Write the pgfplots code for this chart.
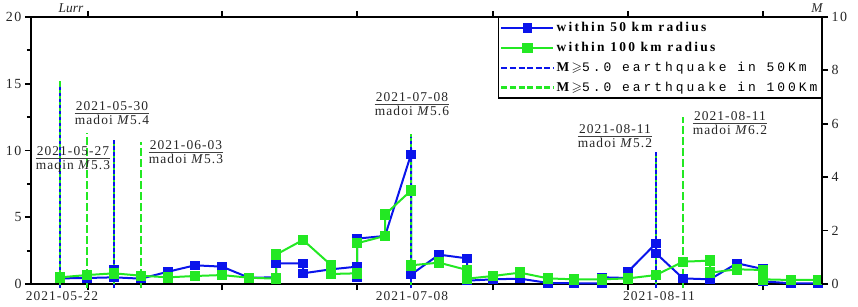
\documentclass[border=0pt]{standalone}
\usepackage{amssymb}
\usepackage{pgfplots}
\pgfplotsset{compat=1.18}
\usepackage{fontspec}
\setmainfont{Liberation Serif}
\newfontfamily\wideserif[LetterSpace=8]{Liberation Serif}
\newfontfamily\tickserif[LetterSpace=12]{Liberation Serif}
\newfontfamily\legserif[LetterSpace=17]{Liberation Serif}
\newfontfamily\legmono[LetterSpace=23]{Liberation Mono}
\definecolor{cblue}{RGB}{10,20,235}
\definecolor{cgreen}{RGB}{35,232,35}
\newcommand{\annfont}{\wideserif\fontsize{13.5}{15}\selectfont}
\newcommand{\ann}[4]{%
  \node[anchor=south, inner xsep=1bp, inner ysep=2bp, font=\annfont, text=black!85] (t) at (axis cs:#1,#2) {#3};
  \draw[line width=0.7bp, black!75] (t.south west) -- (t.south east);
  \node[anchor=north, inner xsep=1bp, inner ysep=2bp, font=\annfont, text=black!85] at (t.south) {#4};}
\begin{document}
\begin{tikzpicture}
\useasboundingbox (0,0) rectangle (858bp,307bp);
\begin{axis}[
  at={(31bp,23bp)}, anchor=south west,
  scale only axis, width=791bp, height=267bp,
  xmin=31, xmax=822, ymin=0, ymax=20,
  clip=false,
  axis line style={line width=2bp},
  tick align=outside,
  major tick length=6bp, minor tick length=4bp,
  every tick/.style={black, line width=1.8bp},
  xtick={88,222,357,493,628,763},
  xticklabels={},
  xtick pos=both,
  extra x ticks={62,412,659},
  extra x tick labels={2021-05-22,2021-07-08,2021-08-11},
  extra x tick style={major tick length=0bp, xticklabel style={yshift=-4bp}},
  ytick={0,5,10,15,20},
  minor ytick={2.5,7.5,12.5,17.5},
  ytick pos=left,
  /pgf/number format/assume math mode=true,
  yticklabel style={font=\tickserif\fontsize{14}{15}\selectfont, text=black!85},
  xticklabel style={font=\wideserif\fontsize{13.5}{15}\selectfont, text=black!85},
  legend style={at={(1,1)}, anchor=north east, draw=black, line width=1.3bp,
    inner xsep=2bp, inner ysep=3bp, row sep=5bp,
    font=\legserif\fontsize{13.5}{15}\selectfont, fill=white},
  legend cell align=left,
  legend image code/.code={\draw[mark repeat=2,mark phase=2,#1] plot coordinates {(0bp,0bp)(26bp,0bp)(52bp,0bp)};},
]
\addplot[cblue, line width=2bp, mark=square*, mark size=3.7bp, mark options={solid}] coordinates {
(60,0.42) (87,0.45) (114,0.5) (114,1.05) (114,0.5) (141,0.4) (168,0.92) (195,1.4) (222,1.3) (249,0.47) (276,0.5) (276,1.55) (303,1.55) (303,0.8) (331,1.1) (357,1.3) (357,0.47) (357,3.4) (385,3.6) (411,9.7) (411,0.7) (439,2.2) (467,1.92) (467,0.25) (493,0.35) (520,0.4) (548,0.08) (574,0.05) (602,0.05) (602,0.5) (628,0.45) (628,0.92) (656,3.05) (656,2.3) (683,0.42) (710,0.35) (737,1.55) (763,1.12) (763,0.2) (791,0.05) (818,0.05)};
\addlegendentry{\textbf{within 50 km radius}}
\addplot[cgreen, line width=2bp, mark=square*, mark size=4.2bp, mark options={solid}] coordinates {
(60,0.5) (87,0.67) (114,0.8) (141,0.62) (168,0.5) (195,0.6) (222,0.67) (249,0.47) (276,0.4) (276,2.2) (303,3.3) (331,1.42) (331,0.75) (357,0.8) (357,3.05) (385,3.6) (385,5.2) (411,7.0) (411,1.4) (439,1.6) (467,1.05) (467,0.4) (493,0.6) (520,0.85) (548,0.42) (574,0.35) (602,0.35) (628,0.42) (656,0.67) (683,1.67) (710,1.75) (710,0.85) (737,1.1) (763,1.05) (763,0.35) (791,0.3) (818,0.3)};
\addlegendentry{\textbf{within 100 km radius}}
\addlegendimage{cblue, line width=2.4bp, dash pattern=on 6bp off 2.6bp}
\addlegendentry{\textbf{M}$\geqslant$\legmono\fontsize{13}{15}\selectfont 5.0 earthquake in 50Km}
\addlegendimage{cgreen, line width=2.4bp, dash pattern=on 6bp off 2.6bp}
\addlegendentry{\textbf{M}$\geqslant$\legmono\fontsize{13}{15}\selectfont 5.0 earthquake in 100Km}
% earthquake event lines (height = 2 x M on the left scale)
\addplot[cgreen, line width=2.6bp, forget plot] coordinates {(60,-0.3) (60,15.2)};
\addplot[cblue, line width=1.2bp, dash pattern=on 3bp off 3bp, forget plot] coordinates {(60,-0.3) (60,14.8)};
\addplot[cgreen, line width=2.3bp, dash pattern=on 8bp off 3bp, forget plot] coordinates {(87,-0.3) (87,11.3)};
\addplot[cgreen, line width=2.3bp, forget plot] coordinates {(114,-0.3) (114,10.8)};
\addplot[cblue, line width=2.3bp, dash pattern=on 4bp off 2bp, forget plot] coordinates {(114,-0.3) (114,10.8)};
\addplot[cgreen, line width=2.3bp, dash pattern=on 8bp off 3bp, forget plot] coordinates {(141,-0.3) (141,10.66)};
\addplot[cgreen, line width=2.6bp, forget plot] coordinates {(411,-0.3) (411,11.2)};
\addplot[cblue, line width=1.2bp, dash pattern=on 3bp off 3bp, forget plot] coordinates {(411,-0.3) (411,11.0)};
\addplot[cgreen, line width=2.3bp, forget plot] coordinates {(656,-0.3) (656,9.9)};
\addplot[cblue, line width=2.3bp, dash pattern=on 4bp off 2bp, forget plot] coordinates {(656,-0.3) (656,9.9)};
\addplot[cgreen, line width=2.3bp, dash pattern=on 8bp off 3bp, forget plot] coordinates {(683,-0.3) (683,12.5)};
% annotations
\ann{73}{9.44}{2021-05-27}{maqin \textit{M}5.3}
\ann{112}{12.81}{2021-05-30}{madoi \textit{M}5.4}
\ann{186}{9.89}{2021-06-03}{madoi \textit{M}5.3}
\ann{412}{13.48}{2021-07-08}{madoi \textit{M}5.6}
\ann{615}{11.09}{2021-08-11}{madoi \textit{M}5.2}
\ann{730}{12.06}{2021-08-11}{madoi \textit{M}6.2}
\end{axis}
\begin{axis}[
  at={(31bp,23bp)}, anchor=south west,
  scale only axis, width=791bp, height=267bp,
  xmin=31, xmax=822, ymin=0, ymax=10,
  axis x line=none, axis y line*=right,
  axis line style={line width=2bp},
  tick align=outside, major tick length=6bp,
  every tick/.style={black, line width=1.8bp},
  ytick={0,2,4,6,8,10},
  /pgf/number format/assume math mode=true,
  yticklabel style={font=\tickserif\fontsize{14}{15}\selectfont, text=black!85},
]
\addplot[draw=none, forget plot] coordinates {(31,0)};
\end{axis}
\node[font=\fontsize{13.5}{15}\selectfont\itshape, text=black!85] at (71bp,299bp) {Lurr};
\node[font=\fontsize{13.5}{15}\selectfont\itshape, text=black!85] at (817bp,299bp) {M};
\end{tikzpicture}
\end{document}
